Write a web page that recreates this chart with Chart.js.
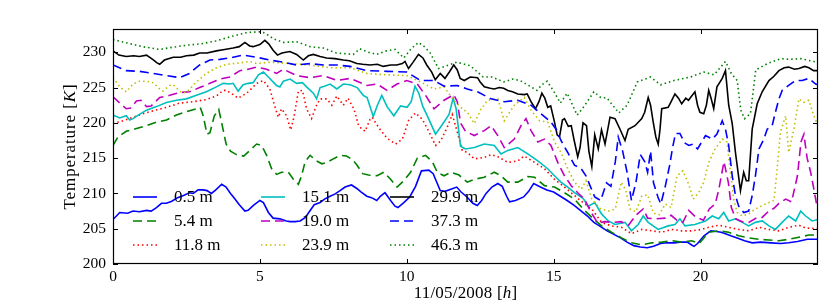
<!DOCTYPE html>
<html><head><meta charset="utf-8">
<script src="https://cdn.jsdelivr.net/npm/chart.js@4.4.1/dist/chart.umd.min.js"></script>
<style>html,body{margin:0;padding:0;background:#fff;}canvas{display:block;}</style>
</head><body>
<canvas id="c" width="830" height="303"></canvas>
<script>
// ---- data: [hour, temperature K] readings per sensor height ----
const depthLabels = ['0.5 m','5.4 m','11.8 m','15.1 m','19.0 m','23.9 m','29.9 m','37.3 m','46.3 m'];
const xTickValues = [0,5,10,15,20];
const yTickValues = [200,205,210,215,220,225,230];

const s05 = [[0,206.3],[0.23,207.3],[0.5,207.2],[0.68,207.5],[0.9,207.4],[1.14,207.6],[1.3,207.5],[1.48,208.0],[1.65,208.6],[1.82,208.6],[2.0,208.9],[2.2,209.4],[2.4,209.7],[2.6,210.1],[2.73,210.0],[2.9,210.5],[3.07,210.5],[3.2,210.4],[3.35,210.0],[3.5,210.5],[3.7,211.3],[3.85,210.9],[4.0,210.0],[4.1,209.5],[4.3,208.4],[4.49,207.5],[4.6,207.6],[4.78,208.3],[5.0,209.0],[5.12,208.7],[5.29,207.3],[5.45,206.5],[5.68,206.4],[5.9,206.1],[6.03,206.0],[6.2,206.0],[6.37,206.1],[6.55,206.6],[6.7,207.5],[6.85,208.4],[7.05,208.7],[7.2,209.2],[7.39,209.6],[7.55,209.9],[7.73,210.4],[7.9,210.9],[8.12,211.2],[8.3,210.7],[8.45,210.2],[8.64,209.6],[8.8,209.4],[8.98,209.0],[9.1,209.6],[9.26,210.1],[9.45,209.0],[9.6,208.2],[9.7,208.0],[9.9,208.7],[10.1,209.5],[10.3,211.0],[10.5,213.2],[10.75,213.3],[10.9,212.8],[11.0,211.8],[11.14,210.4],[11.3,210.3],[11.5,210.6],[11.7,210.9],[11.85,210.2],[12.05,209.5],[12.25,208.6],[12.4,208.3],[12.55,209.0],[12.7,210.0],[12.9,210.9],[13.1,211.4],[13.25,211.0],[13.4,209.6],[13.5,208.8],[13.7,209.0],[13.98,209.5],[14.15,210.3],[14.32,211.4],[14.55,210.9],[14.77,210.5],[15.0,210.2],[15.23,209.6],[15.46,209.0],[15.7,208.3],[15.91,207.6],[16.15,206.8],[16.37,205.9],[16.6,205.3],[16.82,204.7],[17.05,204.2],[17.28,203.7],[17.5,203.1],[17.73,202.6],[17.95,202.4],[18.19,202.3],[18.4,202.5],[18.64,202.9],[18.85,203.0],[19.1,203.0],[19.3,203.1],[19.55,203.1],[19.7,202.7],[19.78,202.5],[19.9,202.9],[20.12,204.0],[20.35,204.7],[20.55,204.6],[20.7,204.5],[20.85,204.3],[21.03,204.0],[21.25,203.7],[21.5,203.3],[21.76,203.0],[22.05,203.1],[22.4,203.0],[22.73,202.9],[23.0,203.0],[23.3,203.2],[23.64,203.5],[24.0,203.5]];

const s54 = [[0,216.8],[0.17,218.0],[0.45,218.8],[0.8,219.2],[1.14,219.6],[1.48,220.1],[1.82,220.4],[2.16,221.1],[2.5,221.6],[2.84,222.0],[2.97,222.2],[3.07,221.0],[3.2,218.4],[3.3,218.6],[3.45,221.0],[3.6,221.9],[3.7,220.0],[3.85,217.0],[4.0,216.0],[4.2,215.5],[4.45,215.3],[4.66,216.1],[4.89,217.0],[5.06,216.8],[5.23,215.4],[5.4,213.5],[5.57,212.7],[5.74,213.0],[5.97,213.0],[6.14,212.0],[6.31,211.3],[6.42,212.5],[6.54,214.5],[6.71,215.4],[6.93,214.6],[7.11,214.2],[7.28,214.4],[7.5,214.9],[7.73,215.4],[7.95,215.3],[8.15,214.8],[8.31,214.0],[8.5,212.8],[8.7,212.6],[8.99,212.5],[9.22,213.0],[9.45,212.0],[9.67,210.9],[9.9,211.8],[10.13,213.0],[10.36,215.0],[10.64,215.4],[10.87,214.5],[11.04,213.0],[11.27,212.5],[11.5,213.0],[11.78,212.6],[12.06,211.6],[12.3,212.0],[12.64,212.3],[12.98,213.0],[13.21,212.5],[13.44,211.6],[13.78,211.6],[14.12,212.4],[14.35,212.3],[14.69,211.1],[15.03,210.9],[15.37,210.1],[15.71,209.2],[16.0,207.8],[16.3,206.6],[16.63,205.4],[16.97,204.5],[17.31,203.7],[17.65,203.0],[18.0,202.7],[18.34,203.0],[18.68,203.1],[19.02,203.3],[19.36,203.1],[19.7,203.3],[19.95,202.9],[20.28,204.5],[20.62,204.7],[20.96,204.5],[21.3,204.0],[21.64,203.7],[21.99,203.5],[22.33,203.4],[22.67,203.3],[23.0,203.5],[23.35,203.8],[23.69,204.1],[24.0,204.1]];

const s118 = [[0,219.9],[0.34,220.3],[0.68,220.8],[1.02,221.3],[1.36,221.7],[1.82,222.2],[2.27,222.8],[2.73,223.0],[3.18,223.3],[3.52,223.8],[3.75,224.6],[3.86,224.6],[4.09,224.0],[4.26,223.5],[4.55,224.2],[4.75,225.0],[4.89,225.6],[5.12,226.0],[5.34,224.8],[5.51,222.3],[5.63,220.8],[5.74,222.0],[5.91,221.0],[6.05,219.0],[6.17,221.0],[6.31,224.5],[6.45,224.6],[6.59,222.0],[6.76,220.6],[6.93,222.5],[7.05,223.4],[7.28,223.4],[7.45,222.5],[7.62,223.8],[7.84,222.5],[8.0,223.5],[8.2,222.0],[8.37,219.5],[8.58,218.8],[8.75,220.5],[8.82,220.8],[9.05,219.3],[9.33,217.8],[9.62,217.0],[9.85,217.7],[10.07,220.4],[10.3,221.4],[10.53,220.5],[10.75,218.8],[10.98,216.8],[11.15,217.4],[11.38,219.4],[11.55,221.2],[11.72,218.7],[11.89,216.1],[12.06,215.8],[12.3,214.9],[12.64,215.1],[12.87,215.5],[13.1,215.2],[13.44,214.4],[13.78,214.6],[14.0,215.3],[14.35,214.4],[14.69,213.5],[15.03,212.0],[15.37,210.9],[15.71,209.7],[16.0,208.7],[16.3,207.8],[16.63,205.9],[16.97,205.4],[17.31,205.2],[17.65,204.3],[18.0,204.9],[18.34,204.7],[18.68,204.5],[19.02,204.9],[19.36,204.7],[19.7,204.7],[20.04,204.9],[20.28,205.2],[20.62,205.5],[20.96,205.2],[21.3,204.9],[21.64,204.7],[21.99,205.2],[22.33,204.9],[22.67,204.7],[23.0,205.2],[23.35,205.5],[23.58,205.1],[24.0,205.0]];

const s151 = [[0,221.1],[0.23,220.7],[0.45,221.0],[0.57,220.4],[0.68,220.6],[0.9,221.2],[1.14,221.8],[1.48,222.3],[1.82,222.9],[2.16,223.2],[2.5,223.4],[2.84,223.9],[3.18,224.4],[3.52,225.1],[3.75,225.6],[3.98,225.5],[4.09,225.6],[4.26,224.5],[4.43,225.4],[4.6,225.6],[4.77,225.7],[4.95,226.8],[5.12,227.2],[5.29,226.5],[5.45,225.8],[5.57,225.3],[5.68,225.1],[5.8,225.9],[6.03,226.2],[6.25,225.6],[6.45,225.7],[6.59,225.1],[6.82,224.2],[6.93,223.4],[7.05,225.0],[7.2,225.2],[7.39,225.5],[7.62,224.8],[7.84,225.5],[8.07,225.4],[8.31,225.0],[8.52,223.9],[8.65,223.6],[8.86,220.9],[9.0,222.5],[9.15,223.9],[9.33,222.3],[9.56,221.0],[9.79,222.4],[10.01,222.2],[10.15,223.0],[10.28,225.2],[10.41,224.2],[10.55,222.3],[10.7,221.0],[10.98,218.4],[11.2,219.7],[11.44,221.2],[11.58,223.5],[11.68,222.0],[11.83,216.7],[12.0,216.3],[12.3,216.5],[12.64,217.0],[12.98,216.8],[13.21,215.6],[13.44,216.1],[13.78,216.5],[14.12,215.6],[14.46,214.6],[14.8,213.5],[15.03,212.5],[15.25,211.6],[15.48,210.9],[15.71,210.1],[16.0,209.3],[16.18,208.2],[16.4,208.7],[16.63,207.1],[16.86,206.1],[17.09,205.6],[17.43,205.9],[17.65,204.7],[17.88,205.6],[18.05,206.8],[18.22,205.9],[18.56,204.9],[18.9,205.4],[19.13,205.6],[19.3,206.4],[19.47,205.4],[19.81,205.6],[20.04,205.9],[20.17,206.1],[20.4,206.8],[20.62,206.4],[20.79,207.3],[20.96,206.1],[21.19,206.4],[21.42,205.9],[21.64,205.4],[21.87,205.9],[22.1,206.1],[22.33,205.4],[22.55,204.9],[22.78,205.9],[23.0,206.8],[23.24,206.1],[23.41,207.5],[23.58,206.8],[23.8,206.1],[24.0,206.3]];

const s190 = [[0,223.7],[0.23,222.8],[0.45,222.0],[0.6,222.1],[0.8,223.1],[0.95,223.2],[1.14,222.3],[1.3,222.4],[1.59,223.6],[1.93,223.9],[2.27,224.3],[2.61,224.4],[2.95,225.0],[3.3,225.6],[3.64,226.2],[3.98,226.5],[4.32,227.4],[4.6,227.6],[4.89,227.9],[5.23,227.6],[5.57,227.0],[5.8,227.6],[6.25,226.7],[6.71,226.4],[7.16,226.7],[7.62,226.0],[8.07,226.3],[8.31,225.9],[8.65,225.3],[8.99,225.5],[9.33,224.6],[9.67,225.5],[10.0,226.0],[10.36,225.5],[10.64,223.9],[10.93,222.0],[11.27,223.2],[11.6,224.0],[11.72,223.0],[11.83,220.0],[12.0,218.8],[12.3,218.2],[12.64,218.9],[12.87,219.6],[13.1,218.2],[13.32,216.5],[13.66,217.7],[13.89,219.6],[14.06,220.6],[14.23,218.9],[14.46,217.3],[14.69,217.7],[14.91,216.8],[15.14,214.4],[15.37,212.5],[15.6,211.1],[15.82,210.1],[16.05,209.2],[16.25,207.5],[16.5,205.8],[16.75,206.0],[17.0,205.9],[17.3,206.0],[17.55,205.5],[17.8,206.9],[18.05,207.8],[18.2,206.5],[18.5,206.4],[18.8,206.5],[19.0,206.9],[19.2,206.2],[19.4,205.9],[19.6,207.6],[19.8,206.8],[19.94,206.5],[20.1,206.2],[20.3,207.8],[20.5,208.5],[20.62,210.5],[20.8,214.5],[20.95,211.5],[21.05,208.0],[21.2,206.4],[21.42,206.0],[21.64,205.9],[21.9,206.5],[22.1,206.6],[22.3,207.4],[22.5,207.9],[22.67,208.6],[22.9,209.2],[23.1,208.8],[23.3,212.5],[23.42,217.3],[23.52,218.4],[23.63,215.0],[23.75,213.0],[23.86,210.6],[23.95,208.5],[24.0,208.6]];

const s239 = [[0,226.4],[0.23,225.1],[0.45,224.4],[0.68,225.5],[0.9,225.9],[1.14,225.9],[1.36,225.7],[1.59,224.8],[1.7,224.5],[1.93,225.3],[2.05,225.4],[2.33,224.3],[2.5,224.3],[2.84,225.8],[3.18,227.0],[3.52,227.8],[3.86,228.3],[4.32,228.5],[4.66,228.7],[4.9,228.4],[5.34,228.6],[6.03,228.4],[6.7,228.2],[7.39,227.8],[8.07,227.8],[8.65,227.0],[9.33,226.8],[10.0,226.7],[10.47,225.8],[10.93,224.8],[11.27,225.1],[11.6,223.2],[11.89,222.0],[12.06,221.5],[12.3,219.9],[12.53,222.0],[12.76,223.2],[13.1,223.4],[13.32,220.3],[13.66,222.5],[14.0,223.6],[14.23,221.8],[14.52,220.3],[14.8,220.1],[15.03,217.3],[15.25,215.8],[15.48,213.5],[15.71,211.6],[15.94,210.6],[16.1,211.8],[16.3,209.2],[16.6,207.8],[16.9,207.5],[17.1,207.8],[17.3,211.6],[17.45,210.5],[17.6,207.8],[17.8,207.4],[18.0,209.6],[18.2,209.8],[18.4,207.2],[18.6,207.0],[18.8,208.5],[19.0,208.0],[19.2,212.5],[19.4,213.2],[19.6,211.3],[19.75,209.2],[19.94,210.1],[20.11,211.6],[20.28,214.4],[20.5,216.3],[20.74,217.7],[20.9,217.3],[21.02,213.0],[21.13,209.2],[21.25,207.3],[21.42,206.8],[21.64,207.1],[21.87,207.8],[22.21,208.5],[22.5,209.0],[22.61,213.5],[22.72,218.7],[22.9,221.0],[23.0,215.8],[23.18,219.1],[23.35,223.4],[23.52,222.9],[23.69,223.2],[23.86,221.0],[24.0,219.6]];

const s299 = [[0,230.2],[0.2,229.6],[0.45,229.4],[0.7,229.5],[0.9,229.4],[1.14,229.6],[1.35,229.0],[1.5,228.5],[1.59,228.3],[1.75,228.9],[2.05,229.3],[2.3,229.3],[2.5,229.5],[2.75,229.6],[2.95,229.9],[3.2,229.9],[3.52,230.2],[3.8,230.4],[4.09,230.6],[4.3,230.8],[4.49,231.4],[4.65,230.9],[4.77,230.8],[5.0,231.1],[5.17,231.7],[5.3,231.2],[5.45,230.3],[5.6,229.6],[5.75,229.9],[6.02,230.1],[6.25,229.7],[6.48,228.9],[6.65,229.5],[6.82,229.7],[7.05,229.4],[7.27,229.2],[7.55,229.1],[7.84,228.9],[8.05,228.8],[8.3,228.4],[8.5,228.3],[8.75,228.2],[9.0,228.3],[9.2,228.0],[9.45,228.2],[9.66,228.2],[9.85,228.4],[9.94,228.7],[10.06,227.7],[10.2,228.5],[10.4,229.7],[10.55,229.2],[10.68,228.2],[10.85,227.2],[10.97,226.1],[11.14,227.0],[11.3,226.3],[11.45,227.2],[11.6,228.2],[11.72,227.5],[11.82,226.3],[11.96,226.0],[12.16,226.5],[12.41,226.4],[12.5,225.8],[12.64,225.1],[12.84,224.9],[12.98,224.8],[13.15,225.0],[13.3,224.9],[13.44,224.6],[13.6,224.4],[13.78,224.1],[14.0,224.0],[14.1,224.1],[14.23,223.0],[14.38,222.0],[14.5,223.0],[14.6,224.2],[14.7,223.5],[14.8,222.2],[14.9,222.4],[15.03,220.1],[15.12,218.3],[15.2,218.0],[15.3,220.4],[15.37,220.6],[15.5,219.5],[15.6,219.6],[15.7,217.5],[15.82,215.2],[15.9,216.5],[16.0,220.0],[16.12,219.6],[16.2,216.0],[16.3,213.8],[16.4,218.3],[16.52,216.3],[16.63,219.0],[16.75,217.0],[16.92,220.8],[17.09,220.6],[17.26,219.1],[17.43,217.5],[17.54,219.1],[17.77,219.6],[18.0,220.6],[18.1,221.5],[18.22,223.6],[18.3,222.5],[18.39,220.1],[18.48,218.0],[18.56,217.0],[18.62,219.0],[18.68,222.0],[18.9,222.2],[19.0,223.0],[19.13,224.1],[19.25,223.5],[19.36,222.7],[19.5,223.5],[19.59,223.2],[19.7,223.8],[19.81,224.4],[19.9,222.5],[19.98,221.5],[20.11,221.3],[20.2,222.5],[20.28,224.6],[20.36,223.5],[20.45,222.0],[20.56,225.1],[20.74,226.3],[20.85,227.4],[20.96,222.5],[21.08,219.9],[21.19,215.8],[21.36,210.4],[21.47,213.0],[21.56,211.8],[21.64,211.8],[21.76,219.1],[21.93,222.7],[22.1,224.4],[22.33,226.0],[22.5,226.6],[22.67,227.4],[22.85,227.8],[23.0,227.9],[23.2,227.6],[23.35,227.7],[23.55,228.0],[23.69,227.8],[23.85,227.4],[24.0,227.4]];

const s373 = [[0,228.2],[0.45,227.4],[0.9,227.3],[1.36,227.0],[1.82,226.7],[2.27,226.4],[2.6,227.0],[2.95,228.2],[3.3,228.9],[3.64,229.0],[3.98,229.2],[4.43,229.6],[4.89,229.3],[5.34,228.9],[5.8,228.6],[6.25,228.2],[6.71,228.4],[7.16,228.2],[7.62,228.2],[8.07,228.0],[8.65,227.4],[9.33,227.3],[10.0,227.2],[10.47,226.0],[10.93,226.0],[11.27,225.2],[11.72,225.3],[12.06,224.8],[12.41,224.4],[12.87,223.4],[13.32,223.0],[13.78,223.2],[14.23,222.5],[14.57,221.3],[14.91,220.1],[15.1,219.0],[15.25,217.5],[15.48,215.8],[15.71,214.0],[15.94,213.5],[16.1,212.5],[16.25,211.0],[16.4,209.5],[16.6,209.0],[16.8,211.5],[16.95,211.0],[17.1,214.5],[17.2,218.0],[17.35,216.0],[17.5,213.0],[17.65,209.0],[17.8,211.5],[17.95,215.5],[18.1,214.5],[18.2,213.0],[18.3,216.0],[18.4,211.5],[18.55,209.5],[18.65,208.5],[18.8,211.0],[18.95,214.0],[19.05,216.5],[19.15,218.5],[19.3,218.5],[19.45,217.2],[19.6,216.8],[19.75,217.0],[19.9,216.3],[20.17,218.2],[20.4,217.7],[20.56,218.4],[20.74,220.3],[20.85,219.1],[20.96,216.8],[21.08,212.5],[21.19,209.7],[21.3,208.2],[21.47,207.3],[21.64,207.5],[21.76,209.7],[21.87,212.5],[21.99,216.3],[22.16,217.7],[22.27,219.1],[22.44,219.6],[22.55,221.5],[22.67,223.4],[22.78,224.6],[23.0,225.3],[23.24,226.0],[23.46,226.0],[23.69,226.3],[23.92,225.5],[24.0,225.4]];

const s463 = [[0,231.8],[0.5,231.3],[1.0,230.8],[1.59,230.4],[2.0,230.7],[2.5,231.0],[3.0,231.2],[3.5,231.6],[4.0,232.2],[4.55,232.8],[5.0,232.9],[5.12,232.8],[5.34,232.3],[5.46,231.9],[5.8,231.4],[6.25,231.5],[6.71,230.8],[7.16,230.6],[7.61,229.9],[8.18,229.7],[8.4,230.5],[8.7,230.0],[8.98,229.7],[9.3,230.2],[9.6,230.4],[9.9,229.2],[10.15,230.5],[10.4,231.4],[10.6,230.8],[10.8,229.9],[11.08,227.7],[11.3,228.0],[11.7,228.6],[12.16,228.1],[12.6,226.5],[12.9,226.5],[13.3,225.8],[13.6,226.2],[13.86,226.0],[14.15,225.3],[14.43,224.6],[14.6,225.4],[14.78,225.9],[15.0,224.5],[15.23,222.8],[15.46,224.2],[15.8,221.1],[16.03,222.3],[16.37,224.4],[16.6,223.6],[16.82,223.5],[17.22,221.4],[17.5,222.5],[17.85,225.8],[18.3,226.5],[18.64,225.4],[19.1,226.0],[19.66,226.5],[20.12,227.2],[20.46,226.8],[20.85,228.7],[21.05,227.0],[21.25,226.0],[21.37,221.8],[21.5,220.6],[21.7,221.3],[21.88,227.5],[22.28,228.4],[22.73,229.1],[23.0,229.0],[23.4,229.1],[23.86,228.7],[24.0,228.5]];

const seriesReadings = [s05, s54, s118, s151, s190, s239, s299, s373, s463];

// ---- styles (matplotlib classic cycle) ----
const FONT = "'Liberation Serif','Times New Roman',serif";
const TICK_SIZE = 15.5;
const LEGEND_SIZE = 17;
const TITLE_SIZE = 17;
const styleColors = ['#0000ff','#008000','#ff0000','#00bfbf','#bf00bf','#bfbf00','#000000','#0000ff','#008000'];
const DASHED = [9,5], DOTTED = [1.5,3], SOLID = [];
const styleDashes = [SOLID, DASHED, DOTTED, SOLID, DASHED, DOTTED, SOLID, DASHED, DOTTED];
const LINE_W = 1.6;

const datasets = seriesReadings.map((pts, i) => ({
  label: depthLabels[i],
  data: pts.map(p => ({x: p[0], y: p[1]})),
  borderColor: styleColors[i],
  borderDash: styleDashes[i],
  borderWidth: LINE_W,
  borderCapStyle: 'butt',
  pointRadius: 0,
  fill: false,
  tension: 0,
  order: seriesReadings.length - 1 - i
}));

const framePlugin = {
  id: 'frame',
  afterDatasetsDraw(chart) {
    const {ctx, chartArea: a, scales} = chart;
    ctx.save();
    ctx.strokeStyle = '#000';
    ctx.lineWidth = 1.2;
    ctx.setLineDash([]);
    ctx.strokeRect(Math.round(a.left) + 0.5, Math.round(a.top) + 0.5, Math.round(a.right - a.left) - 1, Math.round(a.bottom - a.top) - 1);
    const L = 5;
    ctx.lineWidth = 1;
    ctx.beginPath();
    xTickValues.forEach(v => {
      const x = Math.round(scales.x.getPixelForValue(v)) + 0.5;
      ctx.moveTo(x, a.bottom); ctx.lineTo(x, a.bottom - L);
      ctx.moveTo(x, a.top); ctx.lineTo(x, a.top + L);
    });
    yTickValues.forEach(v => {
      const y = Math.round(scales.y.getPixelForValue(v)) + 0.5;
      ctx.moveTo(a.left, y); ctx.lineTo(a.left + L, y);
      ctx.moveTo(a.right, y); ctx.lineTo(a.right - L, y);
    });
    ctx.stroke();
    ctx.restore();
  }
};

function drawMixed(ctx, parts, cx, cy, size, spacing) {
  ctx.letterSpacing = spacing + 'px';
  const fonts = parts.map(p => (p[1] ? 'italic ' : '') + size + 'px ' + FONT);
  const widths = parts.map((p, k) => { ctx.font = fonts[k]; return ctx.measureText(p[0]).width; });
  const total = widths.reduce((s, w) => s + w, 0);
  let x = cx - total / 2;
  parts.forEach((p, k) => { ctx.font = fonts[k]; ctx.fillText(p[0], x, cy); x += widths[k]; });
  ctx.letterSpacing = '0px';
}

const titlePlugin = {
  id: 'titles',
  afterDraw(chart) {
    const {ctx, chartArea: a} = chart;
    ctx.save();
    ctx.fillStyle = '#000';
    ctx.textAlign = 'left';
    ctx.textBaseline = 'alphabetic';
    drawMixed(ctx, [['11/05/2008 [', false], ['h', true], [']', false]], (a.left + a.right) / 2, 298, TITLE_SIZE, 0.2);
    ctx.translate(75, (a.top + a.bottom) / 2);
    ctx.rotate(-Math.PI / 2);
    drawMixed(ctx, [['Temperature [', false], ['K', true], [']', false]], 0, 0, TITLE_SIZE, 0.9);
    ctx.restore();
  }
};

const legendPlugin = {
  id: 'innerLegend',
  afterDraw(chart) {
    const {ctx} = chart;
    const colX = [133, 261, 390];
    ctx.save();
    ctx.font = LEGEND_SIZE + 'px ' + FONT;
    ctx.textBaseline = 'middle';
    ctx.textAlign = 'left';
    datasets.forEach((d, i) => {
      const col = Math.floor(i / 3), row = i % 3;
      const x0 = colX[col], y = 197 + row * 24;
      ctx.strokeStyle = d.borderColor;
      ctx.lineWidth = LINE_W;
      ctx.lineCap = 'butt';
      ctx.setLineDash(d.borderDash);
      ctx.beginPath(); ctx.moveTo(x0, y); ctx.lineTo(x0 + 24, y); ctx.stroke();
      ctx.setLineDash([]);
      ctx.fillStyle = '#000';
      ctx.fillText(d.label, x0 + 41, y + 1);
    });
    ctx.restore();
  }
};

new Chart(document.getElementById('c').getContext('2d'), {
  type: 'line',
  data: { datasets },
  options: {
    responsive: false,
    animation: false,
    devicePixelRatio: 1,
    layout: { padding: { left: 0, right: 12, top: 29, bottom: 0 } },
    plugins: { legend: { display: false }, tooltip: { enabled: false } },
    scales: {
      x: {
        type: 'linear', min: 0, max: 24,
        afterBuildTicks: s => { s.ticks = xTickValues.map(v => ({ value: v })); },
        afterFit: s => { s.height = 39; },
        grid: { display: false, drawTicks: false },
        border: { display: false },
        ticks: { font: { family: FONT, size: TICK_SIZE }, color: '#000', padding: 4, maxRotation: 0, autoSkip: false }
      },
      y: {
        type: 'linear', min: 200, max: 233.3,
        afterBuildTicks: s => { s.ticks = yTickValues.map(v => ({ value: v })); },
        afterFit: s => { s.width = 113; },
        grid: { display: false, drawTicks: false },
        border: { display: false },
        ticks: { font: { family: FONT, size: TICK_SIZE }, color: '#000', padding: 7, autoSkip: false }
      }
    }
  },
  plugins: [framePlugin, legendPlugin, titlePlugin]
});
</script>
</body></html>
